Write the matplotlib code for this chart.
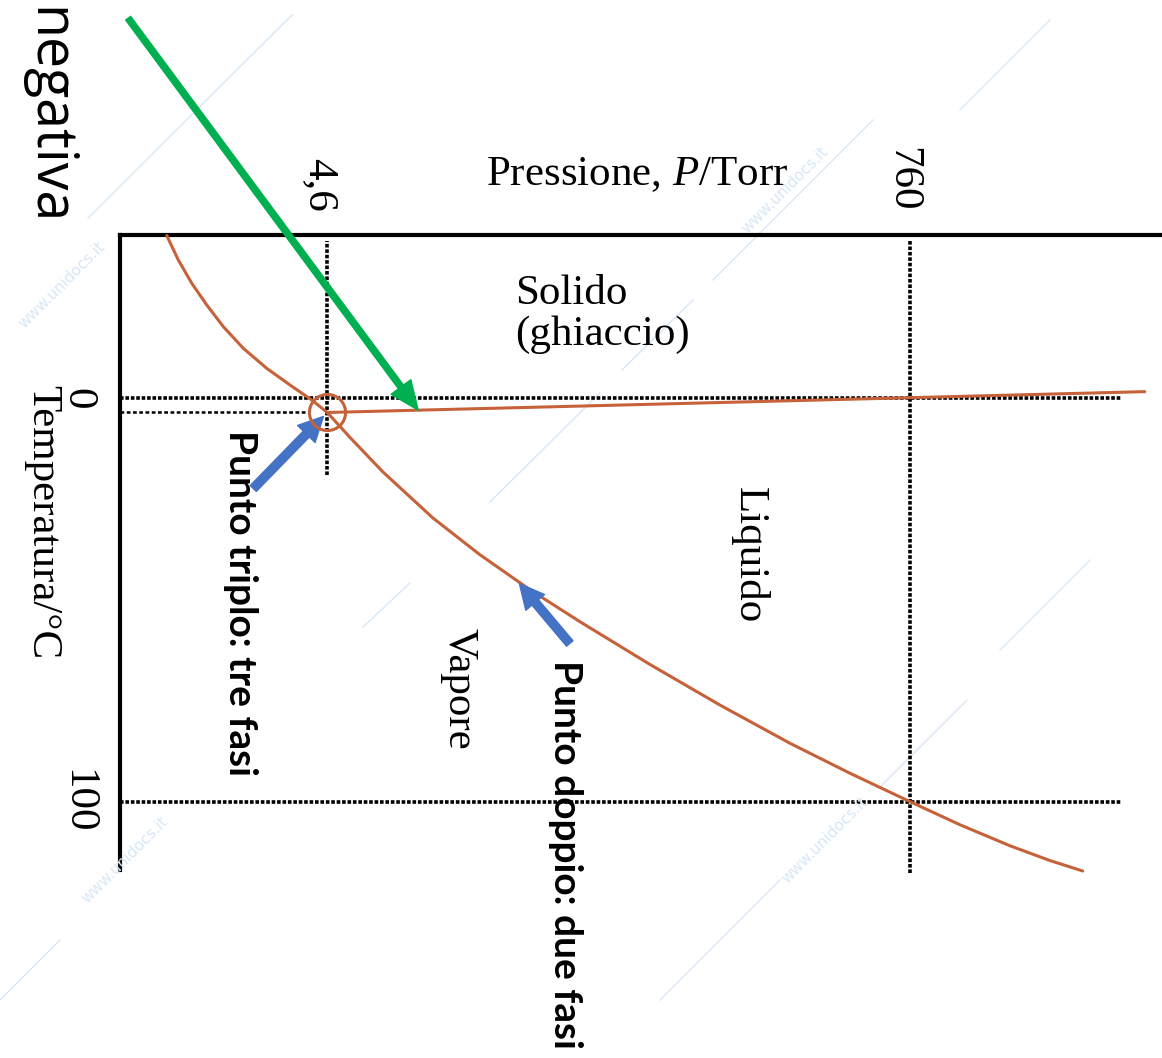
"""
Diagramma di fase dell'acqua (schematico), disegnato ruotato di 90 gradi.
"""

import numpy as np
import matplotlib.pyplot as plt
import matplotlib.transforms as mtransforms
from matplotlib.ticker import NullLocator

W, H = 1162, 1058

# curva solido-vapore (P in Torr, T in °C)
subl_P = [1.127, 1.247, 1.403, 1.600, 1.850, 2.204, 2.705, 3.318, 4.013, 4.6]
subl_T = [-40.4, -34.35, -28.57, -23.19, -17.81, -12.45, -7.49, -3.35, 0.37, 3.47]

# curva liquido-vapore
vap_P = [4.6, 5.614, 7.493, 11.61, 17.52, 27.16, 42.10, 77.71, 143.5, 264.9,
         448.2, 760, 1174.7, 1820, 2584, 3450]
vap_T = [3.47, 9.67, 18.23, 29.64, 38.74, 47.42, 55.36, 65.95, 76.02, 85.49,
         92.93, 100, 105.70, 110.91, 114.58, 117.19]

# curva solido-liquido
fus_P = [4.6, 760, 5940]
fus_T = [3.47, -0.2, -1.7]

triple_P, triple_T = 4.6, 3.47
p_ticks = [4.6, 760]
p_labels = ['4,6', '760']
t_ticks = [0, 100]
t_labels = ['0', '100']

SERIF = 'Liberation Serif'
SANS = 'Lato'
ORANGE = '#c6623a'
GREEN = '#00b050'
BLUE = '#4472c4'
WM = '#d8e7f6'
FS = 31

plt.rcParams['mathtext.fontset'] = 'custom'
plt.rcParams['mathtext.it'] = 'Liberation Serif:italic'
plt.rcParams['mathtext.rm'] = 'Liberation Serif'


def fxy(x, y):
    # pixel (origine in alto a sinistra) -> frazione di figura
    return x / W, 1 - y / H


fig = plt.figure(figsize=(W / 100, H / 100), dpi=100)

# filigrana
wm_lines = [((88, 218), (292, 15)), ((363, 627), (410, 583)), ((490, 502), (600, 393)),
            ((622, 370), (693, 300)), ((713, 280), (873, 120)), ((880, 787), (967, 700)),
            ((660, 1000), (780, 880)), ((0, 1000), (60, 940)), ((1000, 650), (1090, 560)),
            ((960, 110), (1050, 20))]
for (x0, y0), (x1, y1) in wm_lines:
    a, b = fxy(x0, y0)
    c, d = fxy(x1, y1)
    fig.add_artist(plt.Line2D([a, c], [b, d], color=WM, lw=1.0, zorder=0))
for x, y in [(62, 285), (785, 190), (125, 860), (825, 840)]:
    fig.text(*fxy(x, y), 'www.unidocs.it', rotation=45, color=WM, fontsize=11,
             family='DejaVu Sans', ha='center', va='center', zorder=0)

ax = fig.add_axes([120 / W, (H - 870) / H, (W - 120) / W, (870 - 235) / H])
ax.patch.set_alpha(0)
ax.set_xscale('log')
ax.set_xlim(0.748, 6910)
ax.set_ylim(116.94, -40.55)

for side in ['right', 'bottom']:
    ax.spines[side].set_visible(False)
for side in ['left', 'top']:
    ax.spines[side].set_linewidth(3)

ax.xaxis.set_ticks_position('top')
ax.xaxis.set_minor_locator(NullLocator())
ax.set_xticks(p_ticks)
ax.set_xticklabels(p_labels, rotation=-90, family=SERIF, fontsize=FS)
ax.tick_params(axis='x', length=0, pad=17)
shift_left = mtransforms.ScaledTranslation(-8 / 100, 0, fig.dpi_scale_trans)
for lab in ax.get_xticklabels():
    lab.set_transform(lab.get_transform() + shift_left)

ax.set_yticks(t_ticks)
ax.set_yticklabels(t_labels, rotation=-90, family=SERIF, fontsize=FS)
for lab in ax.get_yticklabels():
    lab.set_va('center')
ax.tick_params(axis='y', length=0, pad=17)

# linee di riferimento tratteggiate
dots = dict(color='black', lw=2.6, linestyle=(0, (1, 0.5)), zorder=2)
ax.axhline(0, xmin=0, xmax=0.9616, **dots)
ax.axhline(100, xmin=0, xmax=0.9616, **dots)
ax.axvline(4.6, ymin=0.622, ymax=0.9906, **dots)
ax.axvline(760, ymin=-0.004, ymax=0.9906, clip_on=False, **dots)
ax.axhline(triple_T, xmin=0, xmax=0.1775, color='black', lw=1.8,
           linestyle=(0, (1.5, 1)), zorder=2)

# curve di equilibrio
curve = dict(color=ORANGE, lw=2.2, clip_on=False, zorder=3,
             solid_capstyle='round', solid_joinstyle='round')
ax.plot(subl_P, subl_T, **curve)
ax.plot(vap_P, vap_T, **curve)
ax.plot(fus_P, fus_T, **curve)
ax.plot(triple_P, triple_T, 'o', ms=26, mfc='none', mec=ORANGE, mew=2.2, zorder=4)

# etichette delle regioni
fig.text(*fxy(515, 314), 'Solido\n(ghiaccio)', family=SERIF, fontsize=FS,
         ha='left', va='center', linespacing=1.1)
fig.text(*fxy(749, 555), 'Liquido', family=SERIF, fontsize=FS, rotation=-90,
         ha='center', va='center')
fig.text(*fxy(459, 689), 'Vapore', family=SERIF, fontsize=FS, rotation=-90,
         ha='center', va='center')
fig.text(*fxy(637, 175), 'Pressione, $P$/Torr', family=SERIF, fontsize=FS,
         ha='center', va='center')
fig.text(*fxy(42, 522), 'Temperatura/°C', family=SERIF, fontsize=FS, rotation=-90,
         ha='center', va='center')

fig.text(*fxy(47, 7), 'negativa', family='Open Sans', fontsize=40, rotation=-90,
         ha='center', va='top')
fig.text(*fxy(240, 430), 'Punto triplo: tre fasi', family=SANS, fontsize=28,
         fontweight='bold', rotation=-90, ha='center', va='top')
fig.text(*fxy(566, 660), 'Punto doppio: due fasi', family=SANS, fontsize=28,
         fontweight='bold', rotation=-90, ha='center', va='top')

# frecce
fus_arrow_P = 10.2
fus_arrow_T = np.interp(np.log10(fus_arrow_P), np.log10(fus_P), fus_T)
ax.annotate('', xy=(fus_arrow_P, fus_arrow_T), xytext=(-290, 392),
            textcoords='offset pixels', annotation_clip=False,
            arrowprops=dict(arrowstyle='simple,head_length=1.3,head_width=1.1,tail_width=0.28',
                            color=GREEN, shrinkA=0, shrinkB=0, mutation_scale=16))
ax.annotate('', xy=(triple_P, triple_T), xytext=(-74, -76),
            textcoords='offset pixels', annotation_clip=False,
            arrowprops=dict(arrowstyle='simple,head_length=1.1,head_width=1.1,tail_width=0.38',
                            color=BLUE, shrinkA=0, shrinkB=4, mutation_scale=16))
vap_arrow_P = 24.2
vap_arrow_T = np.interp(np.log10(vap_arrow_P), np.log10(vap_P), vap_T)
ax.annotate('', xy=(vap_arrow_P, vap_arrow_T), xytext=(53, -63),
            textcoords='offset pixels', annotation_clip=False,
            arrowprops=dict(arrowstyle='simple,head_length=1.1,head_width=1.1,tail_width=0.38',
                            color=BLUE, shrinkA=0, shrinkB=3, mutation_scale=16))

fig.savefig('out.png', dpi=100)
